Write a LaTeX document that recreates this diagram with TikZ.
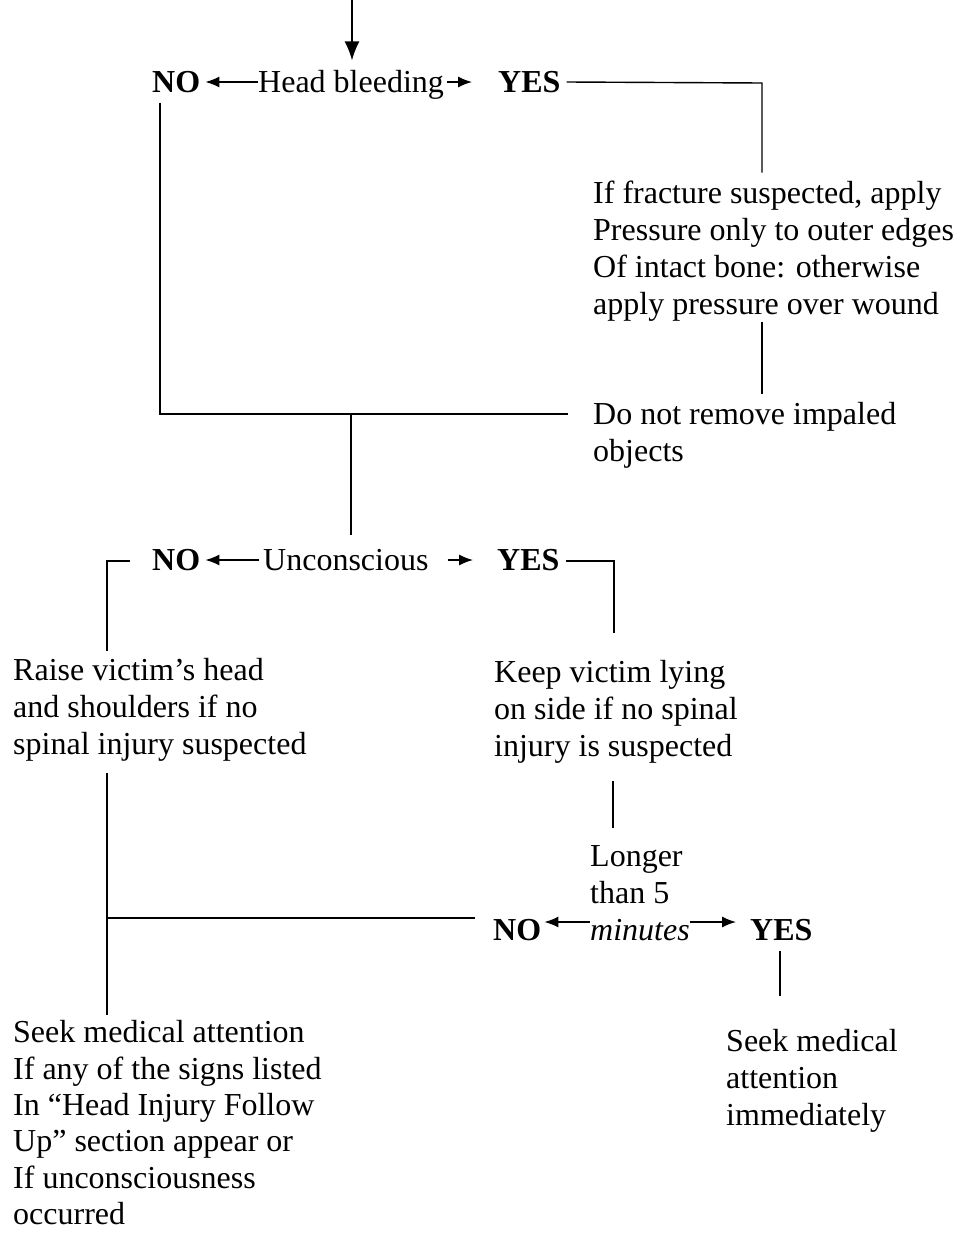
\documentclass[tikz,border=0pt]{standalone}
\usepackage{fontspec}
\setmainfont{Liberation Serif}
\usetikzlibrary{arrows.meta}
\newcommand\myfs{\fontsize{32}{37}\selectfont}
\tikzset{
  txt/.style={inner sep=0pt, font=\myfs, anchor=west, text height=21pt, text depth=0pt},
  blk/.style={inner sep=0pt, font=\myfs, anchor=north west, align=left},
  ln/.style={line width=1.4pt},
  arr/.style={ln, -{Latex[length=14pt,width=11pt]}},
  bigarr/.style={ln, -{Latex[length=19pt,width=15pt]}},
}
\begin{document}
\begin{tikzpicture}[x=1pt,y=-1pt]
\useasboundingbox (0,0) rectangle (959,1234);
% row 1
\node[txt,font=\myfs\bfseries] (no1) at (152,82) {NO};
\node[txt] (hb) at (258,82) {Head bleeding};
\node[txt,font=\myfs\bfseries] (yes1) at (498,82) {YES};
\node[blk] (box1) at (593,177.6) {\strut If fracture suspected, apply\\Pressure only to outer edges\\Of intact bone: otherwise\\apply pressure over wound\strut};
\node[blk] (dn) at (593,398.6) {\strut Do not remove impaled\\objects\strut};
% row 2
\node[txt,font=\myfs\bfseries] (no2) at (152,560) {NO};
\node[txt] (uc) at (263,560) {Unconscious};
\node[txt,font=\myfs\bfseries] (yes2) at (497,560) {YES};
\node[blk] (raise) at (13,654.6) {\strut Raise victim’s head\\and shoulders if no\\spinal injury suspected\strut};
\node[blk] (keep) at (494,656.6) {\strut Keep victim lying\\on side if no spinal\\injury is suspected\strut};
% row 3
\node[blk] (lt) at (590,840.6) {\strut Longer\\than 5};
\node[txt,font=\myfs\itshape] (mn) at (590,930) {minutes};
\node[txt,font=\myfs\bfseries] (no3) at (493,930) {NO};
\node[txt,font=\myfs\bfseries] (yes3) at (750,930) {YES};
\node[blk,font=\fontsize{32}{36.4}\selectfont] (seek1) at (13,1017) {\strut Seek medical attention\\If any of the signs listed\\In “Head Injury Follow\\Up” section appear or\\If unconsciousness\\occurred};
\node[blk] (seek2) at (726,1025.6) {\strut Seek medical\\attention\\immediately\strut};
% coordinates
\coordinate (top) at (352,0);
\coordinate (c1) at (762,83);
\coordinate (c2) at (160,414);
\coordinate (c3) at (568,414);
\coordinate (c4) at (351,414);
\coordinate (c5) at (107,561);
\coordinate (c6) at (614,561);
\coordinate (c7) at (107,918);
\coordinate (x613) at (613,0);
\coordinate (x780) at (780,0);
% connectors
\draw[bigarr, shorten >=11pt] (top) -- (top |- hb.north);
\draw[arr] (hb.west) -- ([xshift=5]no1.east);
\draw[arr] ([xshift=3]hb.east) -- ([xshift=-26]yes1.west);
\draw[ln] ([xshift=6]yes1.east) -- (c1) -- ([yshift=5]c1 |- box1.north);
\draw[ln] ([yshift=4]c1 |- box1.south) -- ([yshift=5]c1 |- dn.north);
\draw[ln] ([yshift=-10]no1.south -| c2) -- (c2) -- (c3);
\draw[ln] (c4) -- ([yshift=14]c4 |- uc.north);
% row 2 connectors
\draw[arr] ([xshift=-4]uc.west) -- ([xshift=5]no2.east);
\draw[arr] ([xshift=19]uc.east) -- ([xshift=-24]yes2.west);
\draw[ln] ([xshift=-22]no2.west |- c5) -- (c5) -- ([yshift=4]c5 |- raise.north);
\draw[ln] ([xshift=6]yes2.east |- c6) -- (c6) -- ([yshift=24]c6 |- keep.north);
\draw[ln] ([yshift=-7]c7 |- raise.south) -- ([yshift=2]c7 |- seek1.north);
\draw[ln] (c7) -- ([xshift=-18]no3.west |- c7);
\draw[ln] ([yshift=-13]x613 |- keep.south) -- ([yshift=13]x613 |- lt.north);
% row 3 connectors
\draw[arr] ([yshift=8]mn.west) -- ([xshift=3,yshift=8]no3.east);
\draw[arr] ([yshift=8]mn.east) -- ([xshift=-14,yshift=8]yes3.west);
\draw[ln] ([yshift=-10]x780 |- yes3.south) -- ([yshift=30]x780 |- seek2.north);
\end{tikzpicture}
\end{document}
